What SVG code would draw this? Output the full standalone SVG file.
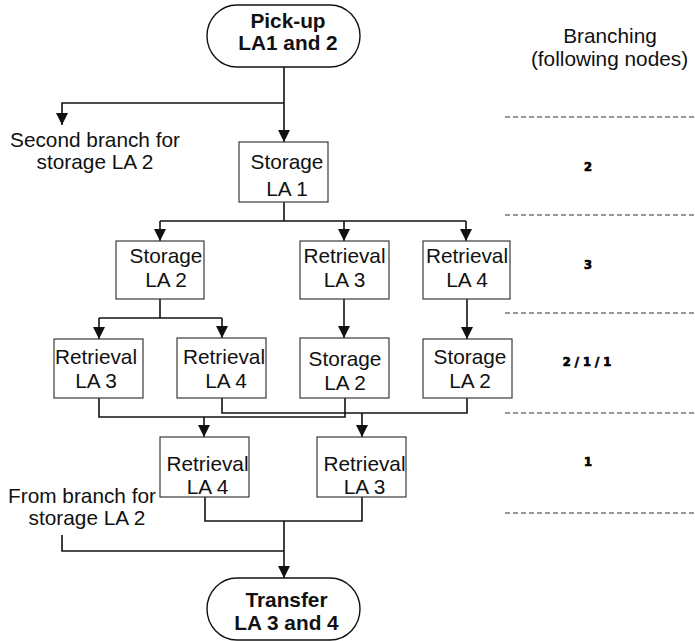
<svg xmlns="http://www.w3.org/2000/svg" width="695" height="641" viewBox="0 0 695 641">
  <style>
    .box { fill: #ffffff; stroke: #3a3a3a; stroke-width: 1.2; }
    .term { fill: #ffffff; stroke: #111111; stroke-width: 1.4; }
    .lbl { font-family: "Liberation Sans", Arial, sans-serif; font-size: 20.8px; fill: #111111; text-anchor: middle; }
    .bold { font-weight: bold; }
    .side { font-family: "Liberation Sans", Arial, sans-serif; font-size: 20.8px; fill: #111111; text-anchor: middle; }
    .num { font-family: "DejaVu Sans", sans-serif; font-weight: bold; font-size: 11.5px; fill: #000000; stroke: #000000; stroke-width: 0.7; text-anchor: middle; }
    .conn { fill: none; stroke: #111111; stroke-width: 1.6; }
    .arr { marker-end: url(#head); }
    .sep { fill: none; stroke: #333333; stroke-width: 1; stroke-dasharray: 5 3; }
  </style>
  <defs>
    <!-- filled triangular arrowhead, tip at the end of the line -->
    <marker id="head" markerUnits="userSpaceOnUse" markerWidth="12" markerHeight="12" viewBox="0 0 12 12" refX="12" refY="6" orient="auto">
      <path d="M0 0 L12 6 L0 12 Z" fill="#111111"/>
    </marker>
  </defs>

  <!-- connectors -->
  <g id="connectors">
    <path class="conn arr" d="M284 67 V142"/>
    <path class="conn arr" d="M284 103 H62 V125"/>
    <path class="conn" d="M284 202 V221"/>
    <path class="conn" d="M160 221 H466"/>
    <path class="conn arr" d="M160 221 V241"/>
    <path class="conn arr" d="M344 221 V241"/>
    <path class="conn arr" d="M466 221 V241"/>
    <path class="conn" d="M160 299 V318"/>
    <path class="conn" d="M99 318 H222"/>
    <path class="conn arr" d="M99 318 V339"/>
    <path class="conn arr" d="M222 318 V338"/>
    <path class="conn arr" d="M344 299 V338"/>
    <path class="conn arr" d="M467 299 V339"/>
    <path class="conn" d="M99 398 V417 H345 V398"/>
    <path class="conn" d="M222 398 V413 H467 V398"/>
    <path class="conn arr" d="M204 417 V437"/>
    <path class="conn arr" d="M362 413 V437"/>
    <path class="conn" d="M205 497 V521 H362 V497"/>
    <path class="conn arr" d="M284 521 V578"/>
    <path class="conn" d="M62 535 V551 H284"/>
  </g>

  <!-- terminals -->
  <g id="pickup">
    <rect class="term" x="207" y="5" width="153" height="62" rx="30" ry="31"/>
    <text class="lbl bold" x="288" y="27.5">Pick-up</text>
    <text class="lbl bold" x="288" y="50">LA1 and 2</text>
  </g>
  <g id="transfer">
    <rect class="term" x="207" y="578" width="153" height="62" rx="30" ry="31"/>
    <text class="lbl bold" x="286.5" y="607">Transfer</text>
    <text class="lbl bold" x="286.5" y="630">LA 3 and 4</text>
  </g>

  <!-- level 1 -->
  <g id="storage-la1">
    <rect class="box" x="239" y="142" width="89" height="60"/>
    <text class="lbl" x="287" y="169">Storage</text>
    <text class="lbl" x="287" y="196">LA 1</text>
  </g>

  <!-- level 2 -->
  <g id="storage-la2-a">
    <rect class="box" x="116" y="241" width="88" height="58"/>
    <text class="lbl" x="166" y="263">Storage</text>
    <text class="lbl" x="166" y="287">LA 2</text>
  </g>
  <g id="retrieval-la3-a">
    <rect class="box" x="300" y="241" width="89" height="58"/>
    <text class="lbl" x="344.5" y="263">Retrieval</text>
    <text class="lbl" x="344.5" y="287">LA 3</text>
  </g>
  <g id="retrieval-la4-a">
    <rect class="box" x="423" y="241" width="87" height="58"/>
    <text class="lbl" x="467" y="263">Retrieval</text>
    <text class="lbl" x="467" y="287">LA 4</text>
  </g>

  <!-- level 3 -->
  <g id="retrieval-la3-b">
    <rect class="box" x="54" y="339" width="89" height="59"/>
    <text class="lbl" x="96" y="364">Retrieval</text>
    <text class="lbl" x="96" y="388">LA 3</text>
  </g>
  <g id="retrieval-la4-b">
    <rect class="box" x="177" y="338" width="89" height="60"/>
    <text class="lbl" x="224" y="364">Retrieval</text>
    <text class="lbl" x="226" y="388">LA 4</text>
  </g>
  <g id="storage-la2-b">
    <rect class="box" x="300" y="338" width="89" height="60"/>
    <text class="lbl" x="345" y="366">Storage</text>
    <text class="lbl" x="345" y="390">LA 2</text>
  </g>
  <g id="storage-la2-c">
    <rect class="box" x="423" y="339" width="89" height="59"/>
    <text class="lbl" x="470" y="364">Storage</text>
    <text class="lbl" x="470" y="388">LA 2</text>
  </g>

  <!-- level 4 -->
  <g id="retrieval-la4-c">
    <rect class="box" x="160" y="437" width="89" height="60"/>
    <text class="lbl" x="207.5" y="471">Retrieval</text>
    <text class="lbl" x="207.5" y="494">LA 4</text>
  </g>
  <g id="retrieval-la3-c">
    <rect class="box" x="317" y="437" width="89" height="60"/>
    <text class="lbl" x="364.5" y="471">Retrieval</text>
    <text class="lbl" x="364.5" y="494">LA 3</text>
  </g>

  <!-- side notes -->
  <g id="note-second-branch">
    <text class="side" x="95" y="147">Second branch for</text>
    <text class="side" x="95" y="169">storage LA 2</text>
  </g>
  <g id="note-from-branch">
    <text class="side" x="82" y="503">From branch for</text>
    <text class="side" x="87" y="525">storage LA 2</text>
  </g>

  <!-- branching column -->
  <g id="branching">
    <text class="side" x="610" y="43">Branching</text>
    <text class="side" x="609.5" y="66">(following nodes)</text>
    <path class="sep" d="M505 117 H695"/>
    <path class="sep" d="M505 215 H695"/>
    <path class="sep" d="M505 313 H695"/>
    <path class="sep" d="M505 413 H695"/>
    <path class="sep" d="M505 513 H695"/>
    <text class="num" x="588" y="171">2</text>
    <text class="num" x="588" y="269">3</text>
    <text class="num" x="587" y="366">2 / 1 / 1</text>
    <text class="num" x="588" y="466">1</text>
  </g>
</svg>
